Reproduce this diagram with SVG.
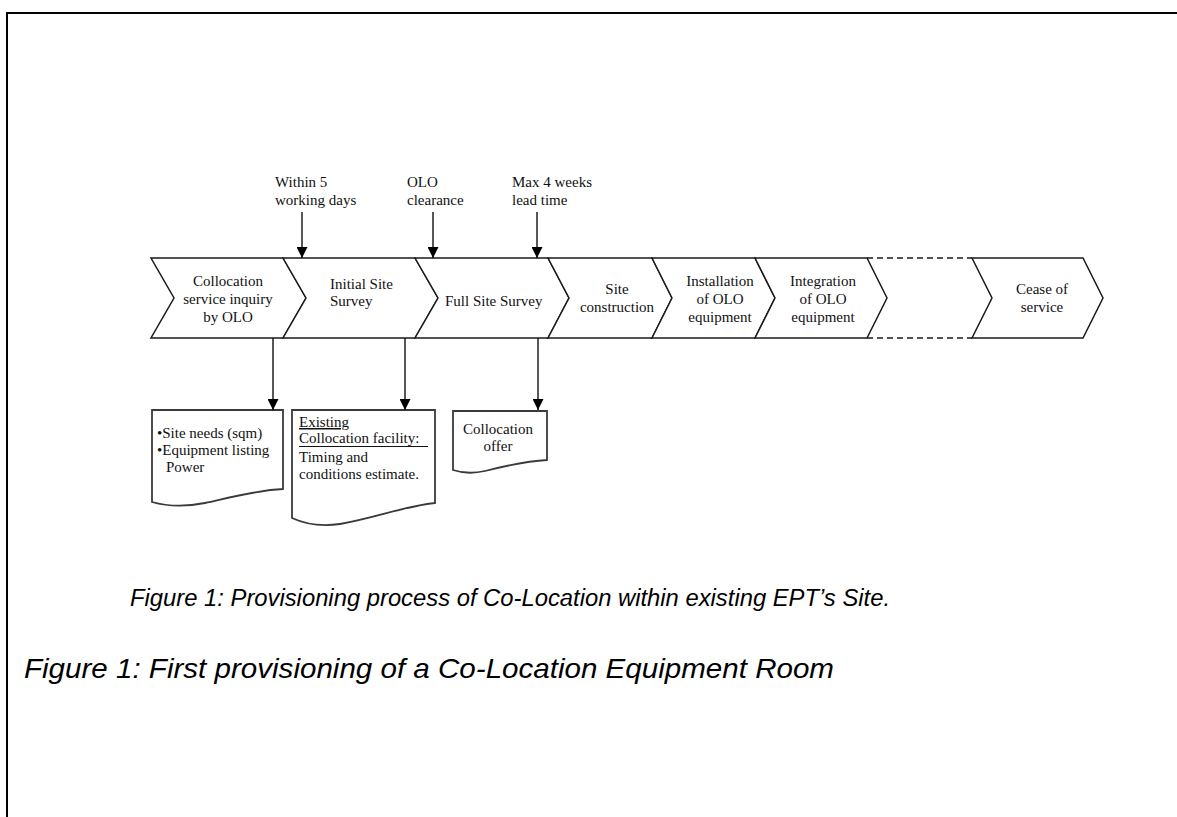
<svg xmlns="http://www.w3.org/2000/svg" width="1177" height="817" viewBox="0 0 1177 817">
<style>
.chev{fill:#fff;stroke:#1a1a1a;stroke-width:1.5;stroke-linejoin:miter}
.doc{fill:#fff;stroke:#3a3a3a;stroke-width:1.8}
.t{font-family:"Liberation Serif","Times New Roman",serif;font-size:15px;fill:#111}
.c{text-anchor:middle}
.ln{stroke:#111;stroke-width:1.4;fill:none}
.dash{stroke:#1a1a1a;stroke-width:1.5;stroke-dasharray:6 4;fill:none}
.cap{font-family:"Liberation Sans",Arial,sans-serif;font-style:italic;fill:#000}
</style>
<defs>
<marker id="ah" markerWidth="12" markerHeight="11" refX="11" refY="5.5" orient="auto" markerUnits="userSpaceOnUse">
<path d="M0,0 L11,5.5 L0,11 Z" fill="#000"/>
</marker>
</defs>
<rect x="0" y="0" width="1177" height="817" fill="#fff"/>
<path d="M7,817 V13 H1177" fill="none" stroke="#000" stroke-width="2"/>

<g id="step1">
<path class="chev" d="M151,258 L283,258 L306,298 L283,338 L151,338 L174,298 Z"/>
<text class="t c" x="228" y="286">Collocation</text>
<text class="t c" x="228" y="304">service inquiry</text>
<text class="t c" x="228" y="322">by OLO</text>
</g>
<g id="step2">
<path class="chev" d="M283,258 L415,258 L438,298 L415,338 L283,338 L306,298 Z"/>
<text class="t" x="330" y="289">Initial Site</text>
<text class="t" x="330" y="306">Survey</text>
</g>
<g id="step3">
<path class="chev" d="M415,258 L548,258 L569,298 L548,338 L415,338 L438,298 Z"/>
<text class="t" x="445" y="306">Full Site Survey</text>
</g>
<g id="step4">
<path class="chev" d="M548,258 L652,258 L672,298 L652,338 L548,338 L569,298 Z"/>
<text class="t c" x="617" y="294">Site</text>
<text class="t c" x="617" y="312">construction</text>
</g>
<g id="step5">
<path class="chev" d="M652,258 L755,258 L775,298 L755,338 L652,338 L672,298 Z"/>
<text class="t c" x="720" y="286">Installation</text>
<text class="t c" x="720" y="304">of OLO</text>
<text class="t c" x="720" y="322">equipment</text>
</g>
<g id="step6">
<path class="chev" d="M755,258 L867,258 L887,298 L867,338 L755,338 L775,298 Z"/>
<text class="t c" x="823" y="286">Integration</text>
<text class="t c" x="823" y="304">of OLO</text>
<text class="t c" x="823" y="322">equipment</text>
</g>
<g id="gap">
<path class="dash" d="M867,258 H972 M867,338 H972"/>
</g>
<g id="step7">
<path class="chev" d="M972,258 L1083,258 L1103,298 L1083,338 L972,338 L992,298 Z"/>
<text class="t c" x="1042" y="294">Cease of</text>
<text class="t c" x="1042" y="312">service</text>
</g>

<g id="note1">
<text class="t" x="275" y="187">Within 5</text>
<text class="t" x="275" y="205">working days</text>
</g>
<g id="note2">
<text class="t" x="407" y="187">OLO</text>
<text class="t" x="407" y="205">clearance</text>
</g>
<g id="note3">
<text class="t" x="512" y="187">Max 4 weeks</text>
<text class="t" x="512" y="205">lead time</text>
</g>

<g id="doc1">
<path class="doc" d="M152,410 H283 V489 C258,490 232,497 205,503 C185,507 166,506 152,502 Z"/>
<text class="t" x="157" y="438">•Site needs (sqm)</text>
<text class="t" x="157" y="455">•Equipment listing</text>
<text class="t" x="166" y="472">Power</text>
</g>
<g id="doc2">
<path class="doc" d="M292,410 H435 V503 C405,506 375,518 340,524 C320,527 305,524 292,518 Z"/>
<text class="t" x="299" y="427" text-decoration="underline">Existing </text>
<text class="t" x="299" y="443">Collocation facility:</text>
<line x1="299" y1="446.5" x2="428" y2="446.5" stroke="#111" stroke-width="1"/>
<text class="t" x="299" y="462">Timing and</text>
<text class="t" x="299" y="479">conditions estimate.</text>
</g>
<g id="doc3">
<path class="doc" d="M453,411 H547 V460 C527,461 505,466 485,471 C472,474 462,473 453,470 Z"/>
<text class="t c" x="498" y="434">Collocation</text>
<text class="t c" x="498" y="451">offer</text>
</g>

<g id="connectors">
<line class="ln" x1="302" y1="212" x2="302" y2="258" marker-end="url(#ah)"/>
<line class="ln" x1="433" y1="212" x2="433" y2="258" marker-end="url(#ah)"/>
<line class="ln" x1="537" y1="212" x2="537" y2="258" marker-end="url(#ah)"/>
<line class="ln" x1="273" y1="338" x2="273" y2="410" marker-end="url(#ah)"/>
<line class="ln" x1="405" y1="338" x2="405" y2="410" marker-end="url(#ah)"/>
<line class="ln" x1="538" y1="338" x2="538" y2="410" marker-end="url(#ah)"/>
</g>

<g id="captions">
<text class="cap" x="130" y="606" font-size="23.5" textLength="760" lengthAdjust="spacingAndGlyphs">Figure 1: Provisioning process of Co-Location within existing EPT’s Site.</text>
<text class="cap" x="24" y="678" font-size="28" textLength="810" lengthAdjust="spacingAndGlyphs">Figure 1: First provisioning of a Co-Location Equipment Room</text>
</g>
</svg>
